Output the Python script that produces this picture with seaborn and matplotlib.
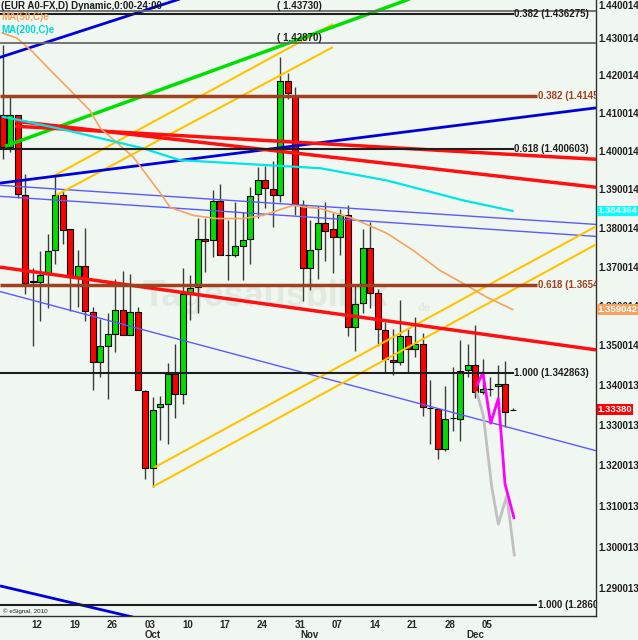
import numpy as np
import pandas as pd
import matplotlib
matplotlib.use("Agg")
import matplotlib.pyplot as plt
import matplotlib.transforms as mtransforms
from matplotlib.ticker import FixedLocator, NullLocator, NullFormatter
import seaborn as sns

# EUR/USD daily candles (6 Sep - 9 Dec 2011)
dates = pd.bdate_range("2011-09-06", "2011-12-09")
opens = [1.4094, 1.4010, 1.4094, 1.3885, 1.3660, 1.3660, 1.3681, 1.3742, 1.3885, 1.3797,
         1.3673, 1.3701, 1.3585, 1.3457, 1.3499, 1.3529, 1.3588, 1.3527, 1.3584,
         1.3384, 1.3193, 1.3345, 1.3352, 1.3427, 1.3376, 1.3630, 1.3647, 1.3770, 1.3768,
         1.3870, 1.3730, 1.3731, 1.3753, 1.3770, 1.3887, 1.3923, 1.3901, 1.3886, 1.4186,
         1.4144,
         1.3860, 1.3697, 1.3746, 1.3813, 1.3796, 1.3776, 1.3832, 1.3546, 1.3607, 1.3747,
         1.3632, 1.3539, 1.3463, 1.3457, 1.3524, 1.3490, 1.3504, 1.3342, 1.3340, 1.3240,
         1.3316, 1.3314,
         1.3437, 1.3449, 1.3381, 1.3389, 1.3396, 1.3403, 1.3338]
closes = [1.4010, 1.4094, 1.3887, 1.3658, 1.3664, 1.3679, 1.3739, 1.3885, 1.3795, 1.3673,
          1.3701, 1.3586, 1.3457, 1.3499, 1.3529, 1.3588, 1.3527, 1.3584, 1.3388,
          1.3193, 1.3337, 1.3352, 1.3427, 1.3376, 1.3629, 1.3645, 1.3771, 1.3765, 1.3870,
          1.3731, 1.3730, 1.3752, 1.3768, 1.3883, 1.3923, 1.3903, 1.3886, 1.4186, 1.4153,
          1.3862,
          1.3697, 1.3744, 1.3812, 1.3793, 1.3776, 1.3832, 1.3546, 1.3605, 1.3747, 1.3633,
          1.3541, 1.3465, 1.3457, 1.3524, 1.3490, 1.3504, 1.3344, 1.3342, 1.3240, 1.3315,
          1.3316, 1.3435,
          1.3449, 1.3381, 1.3389, 1.3389, 1.3403, 1.3333, 1.3338]
highs = [1.4280, 1.4147, 1.4094, 1.3939, 1.3697, 1.3739, 1.3785, 1.3937, 1.3897, 1.3797,
         1.3744, 1.3800, 1.3598, 1.3567, 1.3581, 1.3669, 1.3690, 1.3682, 1.3597,
         1.3386, 1.3369, 1.3373, 1.3454, 1.3504, 1.3697, 1.3678, 1.3826, 1.3826, 1.3897,
         1.3915, 1.3819, 1.3867, 1.3840, 1.3906, 1.3958, 1.3960, 1.3975, 1.4249, 1.4205,
         1.4170,
         1.3871, 1.3819, 1.3856, 1.3867, 1.3839, 1.3848, 1.3860, 1.3656, 1.3796, 1.3816,
         1.3644, 1.3558, 1.3541, 1.3615, 1.3544, 1.3571, 1.3530, 1.3413, 1.3340, 1.3398,
         1.3444, 1.3512,
         1.3502, 1.3550, 1.3466, 1.3421, 1.3451, 1.3460, 1.3343]
lows = [1.3980, 1.3997, 1.3876, 1.3629, 1.3499, 1.3561, 1.3595, 1.3706, 1.3757, 1.3587,
        1.3597, 1.3562, 1.3388, 1.3421, 1.3365, 1.3482, 1.3525, 1.3525, 1.3386,
        1.3166, 1.3145, 1.3263, 1.3252, 1.3318, 1.3353, 1.3565, 1.3582, 1.3687, 1.3726,
        1.3729, 1.3665, 1.3726, 1.3665, 1.3706, 1.3826, 1.3852, 1.3803, 1.3867, 1.4136,
        1.3832,
        1.3613, 1.3639, 1.3669, 1.3715, 1.3685, 1.3729, 1.3524, 1.3486, 1.3581, 1.3595,
        1.3499, 1.3429, 1.3426, 1.3449, 1.3432, 1.3471, 1.3323, 1.3252, 1.3216, 1.3236,
        1.3286, 1.3261,
        1.3421, 1.3367, 1.3377, 1.3372, 1.3368, 1.3294, 1.3338]

# moving averages (day position, price)
ma50_x = [-0.1, 1.9, 4.0, 6.3, 8.6, 11.6, 13.0, 17.4, 21.0, 22.3, 25.4, 28.6, 32.0,
          34.7, 37.4, 38.7, 40.6, 42.3, 46.7, 51.2, 54.7, 58.3, 61.4, 64.6, 68.0]
ma50_y = [1.4313, 1.4299, 1.4262, 1.4214, 1.4168, 1.4107, 1.4060, 1.3984, 1.3890,
          1.3853, 1.3832, 1.3824, 1.3824, 1.3832, 1.3850, 1.3858, 1.3853, 1.3850,
          1.3824, 1.3786, 1.3742, 1.3690, 1.3657, 1.3621, 1.359042]
ma200_x = [0.0, 2.3, 8.6, 18.7, 23.6, 30.7, 42.3, 51.2, 61.4, 68.0]
ma200_y = [1.4090, 1.4081, 1.4054, 1.4007, 1.3976, 1.3968, 1.3955, 1.3923, 1.3871, 1.384364]

# hand-drawn projections
magenta_x = [63.2, 64.0, 65.05, 66.07, 66.96, 68.16]
magenta_y = [1.3398, 1.3431, 1.3304, 1.3366, 1.3154, 1.3070]
grey_x = [63.2, 64.07, 65.2, 66.07, 67.2, 68.2]
grey_y = [1.3381, 1.3323, 1.3145, 1.3055, 1.3125, 1.2979]

# trend lines: (day0, price0, day1, price1)
blue_thick = [(-1.7, 1.4239, 26.3, 1.4422), (-0.37, 1.3916, 79.09, 1.41135),
              (-0.37, 1.2905, 19.63, 1.2820)]
blue_thin = [(-0.37, 1.39103, 79.09, 1.38088), (-0.37, 1.38816, 79.09, 1.37778),
             (-0.37, 1.36363, 79.09, 1.32358)]
green_lines = [(0.29, 1.40124, 55.6, 1.44142)]
red_lines = [(1.63, 1.40651, 79.09, 1.39783), (1.63, 1.40784, 79.09, 1.39052),
             (-0.37, 1.36987, 79.09, 1.34882)]
yellow_lines = [(6.96, 1.39365, 44.03, 1.43368), (7.09, 1.38843, 44.03, 1.42751),
                (20.2, 1.31943, 79.09, 1.38038), (19.99, 1.31467, 79.09, 1.37572)]

# fibonacci levels
fib_black = [1.436275, 1.400603, 1.342863]
fib_black_txt = ["0.382 (1.436275)", "0.618 (1.400603)", "1.000 (1.342863)"]
fib_brown = [1.4145, 1.3654, 1.2860]
fib_brown_txt = ["0.382 (1.4145", "0.618 (1.3654", "1.000 (1.2860"]
peaks = [1.43730, 1.42870]
peak_txt = ["( 1.43730)", "( 1.42870)"]

ytick_vals = [1.440014, 1.430014, 1.420014, 1.410014, 1.400014, 1.390014, 1.380014,
              1.370014, 1.360014, 1.350014, 1.340013, 1.330013, 1.320013, 1.310013,
              1.300013, 1.290013]

bg = "#F0F7F0"
sns.set_style("white", {"axes.facecolor": bg, "figure.facecolor": bg})
plt.rcParams["font.family"] = ["Liberation Sans", "DejaVu Sans"]

fig = plt.figure(figsize=(6.38, 6.40), dpi=100)
ax = fig.add_axes([0, 24 / 640, 596 / 638, 616 / 640])
ax.set_yscale("log")

pos = np.arange(len(dates))
o, h, l, c = map(np.array, (opens, highs, lows, closes))
body_col = np.where(c > o, "#00DD00", np.where(c < o, "#FF0000", "black"))

# watermark
ax.text(0.24, 0.518, "Tagesausblick", transform=ax.transAxes, fontsize=26,
        fontweight="bold", color="#E1E9E1", va="center", ha="left", zorder=0.5)
ax.text(0.70, 0.50, "de", transform=ax.transAxes, fontsize=8,
        fontweight="bold", color="#E1E9E1", va="center", ha="left", zorder=0.5)

# candles
ax.vlines(pos, l, h, color="#3c3c3c", lw=1, zorder=3)
ax.bar(pos, c - o, bottom=o, width=0.8, color=body_col, edgecolor="black",
       linewidth=0.8, zorder=4)

def draw(lines, color, lw):
    for x0, y0, x1, y1 in lines:
        ax.plot([x0, x1], [y0, y1], color=color, lw=lw, zorder=5, solid_capstyle="butt")

draw(blue_thin, "#5a5aff", 1)
draw(yellow_lines, "#FFC400", 1.5)
draw(blue_thick, "#0000DD", 2)
draw(green_lines, "#00E000", 2.5)
draw(red_lines, "#FF1010", 2.5)

sns.lineplot(x=ma50_x, y=ma50_y, ax=ax, color="#F4A460", lw=1.2, zorder=5)
sns.lineplot(x=ma200_x, y=ma200_y, ax=ax, color="#00E5E5", lw=1.6, zorder=5)
sns.lineplot(x=grey_x, y=grey_y, ax=ax, color="#C0C0C0", lw=2, zorder=6, sort=False)
sns.lineplot(x=magenta_x, y=magenta_y, ax=ax, color="#FF00FF", lw=2, zorder=6, sort=False)

x_lo, x_hi = -0.373, 79.09
black_end, brown_end = 68.1, 71.2
fs = 7
for lvl, txt in zip(fib_black, fib_black_txt):
    ax.hlines(lvl, x_lo, black_end, color="#1e1e1e", lw=1.5, zorder=6)
    ax.text(black_end + 0.1, lvl, txt, fontsize=fs, fontweight="bold", color="#1e1e1e",
            va="center", ha="left", zorder=7, clip_on=True)
for lvl, txt in zip(fib_brown, fib_brown_txt):
    col = "#1e1e1e" if txt.startswith("1.000") else "#A0401E"
    ax.hlines(lvl, x_lo, brown_end, color=col, lw=2.5 if col != "#1e1e1e" else 1.5, zorder=6)
    ax.text(brown_end + 0.1, lvl, txt, fontsize=fs, fontweight="bold", color=col,
            va="center", ha="left", zorder=7, clip_on=True)
for lvl, txt in zip(peaks, peak_txt):
    ax.axhline(lvl, color="#6a6a6a", lw=1.3, zorder=6)
    ax.text(36.6, lvl, txt, fontsize=fs, fontweight="bold", color="#1e1e1e",
            va="bottom", ha="left", zorder=7)

# header
ax.text(0.002, 1 - 6 / 616, "(EUR A0-FX,D) Dynamic,0:00-24:00", transform=ax.transAxes,
        fontsize=fs, fontweight="bold", color="#1e1e1e", va="center", ha="left", zorder=8)
ax.text(0.002, 1 - 17 / 616, "MA(50,C)e", transform=ax.transAxes,
        fontsize=fs, fontweight="bold", color="#F4A460", va="center", ha="left", zorder=8)
ax.text(0.002, 1 - 30 / 616, "MA(200,C)e", transform=ax.transAxes,
        fontsize=fs, fontweight="bold", color="#00D8D8", va="center", ha="left", zorder=8)
ax.text(0.005, 5 / 616, "© eSignal, 2010", transform=ax.transAxes, fontsize=4.5,
        color="#1e1e1e", va="center", ha="left", zorder=8)

# axes / scales
ax.set_xlim(x_lo, x_hi)
ax.set_ylim(1.28324, 1.44015)
ax.yaxis.tick_right()
ax.yaxis.set_major_locator(FixedLocator(ytick_vals))
ax.set_yticklabels([f"{v:.6f}" for v in ytick_vals])
ax.yaxis.set_minor_locator(NullLocator())
ax.yaxis.set_minor_formatter(NullFormatter())
ax.tick_params(axis="y", which="both", length=0, pad=1.5, labelsize=fs,
               labelcolor="#1e1e1e")
for t in ax.get_yticklabels():
    t.set_fontweight("bold")
    if t.get_text() == "1.440014":
        t.set_verticalalignment("top")

mondays = pos[dates.dayofweek == 0]
month_first = [pos[(dates.month == m)][0] for m in (10, 11, 12)]
ax.xaxis.remove_overlapping_locs = False
ax.set_xticks(mondays)
ax.set_xticklabels([d.strftime("%d") for d in dates[mondays]])
ax.set_xticks(month_first, minor=True)
ax.set_xticklabels(["Oct", "Nov", "Dec"], minor=True)
ax.tick_params(axis="x", which="major", length=2.2, width=0.8, pad=0.5, labelsize=fs,
               color="#303030", direction="out")
ax.tick_params(axis="x", which="minor", length=0, pad=10, labelsize=fs)
day_off = mtransforms.ScaledTranslation(4.5 / 100, 0, fig.dpi_scale_trans)
mon_off = mtransforms.ScaledTranslation(7 / 100, 0, fig.dpi_scale_trans)
for t in ax.xaxis.get_majorticklabels():
    t.set_fontweight("bold")
    t.set_transform(t.get_transform() + day_off)
for t in ax.xaxis.get_minorticklabels():
    t.set_fontweight("bold")
    t.set_transform(t.get_transform() + mon_off)

for side in ("top", "left"):
    ax.spines[side].set_visible(False)
for side in ("right", "bottom"):
    ax.spines[side].set_color("#303030")
    ax.spines[side].set_linewidth(1)

# last-value boxes on the price scale
for val, txt, col in [(1.384364, "1.384364", "#00FFFF"), (1.359042, "1.359042", "#F4A460"),
                      (1.3338, "1.33380", "#FF0000")]:
    ax.annotate(txt, xy=(1, val), xycoords=("axes fraction", "data"), xytext=(1.2, 0),
                textcoords="offset points", ha="left", va="center", fontsize=6.8,
                fontweight="bold", color="white", zorder=10, annotation_clip=False,
                bbox=dict(boxstyle="square,pad=0.08", fc=col, ec="none"))

fig.savefig("out.png", dpi=100, facecolor=bg)
